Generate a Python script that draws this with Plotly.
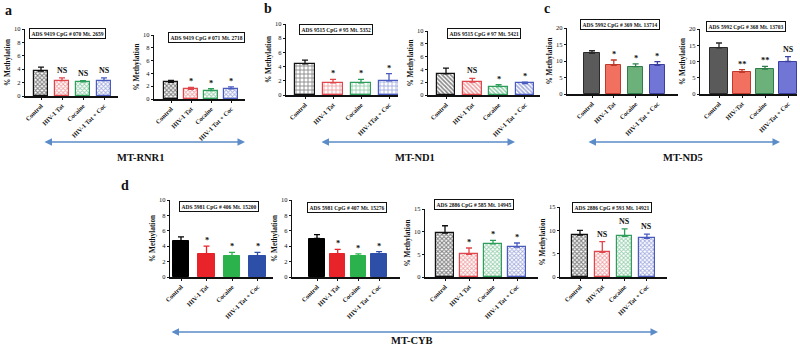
import plotly.graph_objects as go

W, H = 800, 345
FONT = "Liberation Serif, Times New Roman, serif"

# ---------------- data ----------------
cats_a1 = ["Control", "HIV-1 Tat", "Cocaine", "HIV-1 Tat + Coc"]
cats_a2 = ["Control", "HIV-1 Tat", "Cocaine", "HIV-1 Tat + Coc"]
cats_b1 = ["Control", "HIV-1 Tat", "Cocaine", "HIV-1Tat + Coc"]
cats_b2 = ["Control", "HIV-1 Tat", "Cocaine", "HIV-1 Tat + Coc"]
cats_c1 = ["Control", "HIV-1 Tat", "Cocaine", "HIV-1 Tat + Coc"]
cats_c2 = ["Control", "HIV-Tat", "Cocaine", "HIV-Tat + Coc"]
cats_d1 = ["Control", "HIV-1 Tat", "Cocaine", "HIV-1 Tat + Coc"]
cats_d2 = ["Control", "HIV-1 Tat", "Cocaine", "HIV-1 Tat + Coc"]
cats_d3 = ["Control", "HIV-1 Tat", "Cocaine", "HIV-1 Tat + Coc"]
cats_d4 = ["Control", "HIV-Tat", "Cocaine", "HIV-Tat + Coc"]

a1_vals = [3.7, 2.3, 2.1, 2.3]
a1_err = [0.6, 0.4, 0.2, 0.4]
a1_sig = ["", "NS", "NS", "NS"]
a2_vals = [2.6, 1.5, 1.3, 1.6]
a2_err = [0.3, 0.3, 0.3, 0.3]
a2_sig = ["", "*", "*", "*"]
b1_vals = [4.4, 1.7, 1.7, 2.0]
b1_err = [0.5, 0.5, 0.5, 1.0]
b1_sig = ["", "*", "*", "*"]
b2_vals = [3.3, 2.0, 1.3, 1.8]
b2_err = [0.9, 0.6, 0.3, 0.2]
b2_sig = ["", "NS", "*", "*"]
c1_vals = [12.3, 8.7, 8.3, 8.7]
c1_err = [0.8, 1.6, 0.8, 1.1]
c1_sig = ["", "*", "*", "*"]
c2_vals = [14.2, 6.7, 7.7, 10.0]
c2_err = [1.5, 0.8, 0.8, 1.5]
c2_sig = ["", "**", "**", "NS"]
d1_vals = [4.7, 3.0, 2.7, 2.7]
d1_err = [0.5, 1.0, 0.5, 0.5]
d1_sig = ["", "*", "*", "*"]
d2_vals = [5.0, 3.0, 2.7, 3.0]
d2_err = [0.5, 0.6, 0.3, 0.3]
d2_sig = ["", "*", "*", "*"]
d3_vals = [9.7, 5.0, 7.3, 6.6]
d3_err = [1.6, 1.4, 0.8, 0.9]
d3_sig = ["", "*", "*", "*"]
d4_vals = [9.0, 5.3, 8.7, 8.3]
d4_err = [1.0, 2.3, 1.6, 0.9]
d4_sig = ["", "NS", "NS", "NS"]

titles = [
    "ADS 9419 CpG # 070 Mt. 2659", "ADS 9419 CpG # 071 Mt. 2718",
    "ADS 9515 CpG # 95 Mt. 5352", "ADS 9515 CpG # 97 Mt. 5421",
    "ADS 5992 CpG # 369 Mt. 13714", "ADS 5992 CpG # 368 Mt. 13703",
    "ADS 5981 CpG # 406 Mt. 15200", "ADS 5981 CpG # 407 Mt. 15276",
    "ADS 2886 CpG # 585 Mt. 14945", "ADS 2886 CpG # 593 Mt. 14921",
]
genes = ["MT-RNR1", "MT-ND1", "MT-ND5", "MT-CYB"]
panel_letters = ["a", "b", "c", "d"]

# ---------------- styles ----------------
PAT_COLS = ["#111111", "#e0474c", "#2e9e5a", "#4a5bbf"]
C_FILL = ["#5a5a5a", "#f2705f", "#6cb07a", "#7175d6"]
C_LINE = ["#2a2a2a", "#c0392b", "#2e7d4a", "#3a3fa0"]
D_COLS = ["#000000", "#e8232a", "#2bb24c", "#2e4fa8"]

# per panel: data, cats, layout (px): xl, xr, ytop, ybot, ymax, dtick, bar0, spacing, width, style, title pos
panels = [
    (a1_vals, a1_err, a1_sig, cats_a1, 25, 118, 29, 96, 10, 2, 41, 21, 0.62, "chk", (67, 34)),
    (a2_vals, a2_err, a2_sig, cats_a2, 154, 245, 35, 99, 10, 2, 171, 20, 0.72, "chk", (206, 38)),
    (b1_vals, b1_err, b1_sig, cats_b1, 286, 398, 24, 95, 10, 2, 305, 28, 0.7, "grid", (336, 29)),
    (b2_vals, b2_err, b2_sig, cats_b2, 428, 540, 31, 95, 10, 2, 446, 26.3, 0.7, "diag", (484, 34)),
    (c1_vals, c1_err, c1_sig, cats_c1, 567, 678, 28, 94, 20, 5, 592, 21.8, 0.7, "solidc", (620, 25)),
    (c2_vals, c2_err, c2_sig, cats_c2, 700, 797, 29, 94, 20, 5, 719, 23, 0.75, "solidc", (746, 27)),
    (d1_vals, d1_err, d1_sig, cats_d1, 170, 273, 200, 277, 10, 2, 181, 25.5, 0.65, "solidd", (219, 206)),
    (d2_vals, d2_err, d2_sig, cats_d2, 292, 400, 200, 277, 10, 2, 317, 20.7, 0.75, "solidd", (347, 207)),
    (d3_vals, d3_err, d3_sig, cats_d3, 425, 538, 209, 277, 15, 5, 445, 24, 0.72, "chk", (474, 204)),
    (d4_vals, d4_err, d4_sig, cats_d4, 560, 667, 207, 277, 15, 5, 580, 22.3, 0.7, "chk", (612, 207)),
]

fig = go.Figure()
annotations = []
layout = {}

for i, (vals, errs, sigs, cats, xl, xr, ytop, ybot, ymax, dt, bar0, sp, bw, style, tpos) in enumerate(panels):
    n = i + 1
    xa = "x" if n == 1 else f"x{n}"
    ya = "y" if n == 1 else f"y{n}"
    for j, (v, e) in enumerate(zip(vals, errs)):
        if style == "chk":
            col = PAT_COLS[j]
            marker = dict(color="white", line=dict(color=col, width=1.2),
                          pattern=dict(shape="x", fgcolor=col, size=3, solidity=0.6 if j == 0 else 0.5))
            ecol = col
        elif style == "grid":
            col = PAT_COLS[j]
            marker = dict(color="white", line=dict(color=col, width=1.2),
                          pattern=dict(shape="+", fgcolor=col, size=4, solidity=0.4))
            ecol = col
        elif style == "diag":
            col = PAT_COLS[j]
            marker = dict(color="white", line=dict(color=col, width=1.2),
                          pattern=dict(shape="\\", fgcolor=col, size=3, solidity=0.55))
            ecol = col
        elif style == "solidc":
            marker = dict(color=C_FILL[j], line=dict(color=C_LINE[j], width=1))
            ecol = C_LINE[j]
        else:
            marker = dict(color=D_COLS[j], line=dict(color=D_COLS[j], width=1))
            ecol = D_COLS[j]
        fig.add_trace(go.Bar(
            x=[j], y=[v], width=[bw], marker=marker, xaxis=xa, yaxis=ya,
            error_y=dict(type="data", array=[e], arrayminus=[0], symmetric=False,
                         color=ecol, thickness=1.3, width=3),
            showlegend=False, hoverinfo="skip"))
        if sigs[j]:
            annotations.append(dict(
                x=j, y=v + e, xref=xa, yref=ya, text=f"<b>{sigs[j]}</b>",
                showarrow=False, xanchor="center", yanchor="bottom",
                yshift=1 if sigs[j] == "NS" else -1,
                font=dict(family=FONT, size=8 if sigs[j] == "NS" else 8.5, color="#111")))
    rx = [(xl - bar0) / sp, (xr - bar0) / sp]
    layout["xaxis" if n == 1 else f"xaxis{n}"] = dict(
        domain=[xl / W, xr / W], anchor=ya, range=rx, automargin=False,
        tickvals=[0, 1, 2, 3], ticktext=[f"<b>{c}</b>" for c in cats],
        tickangle=-45, tickfont=dict(family=FONT, size=6.4, color="#111"),
        showline=True, linecolor="#111", linewidth=1.6, ticks="outside",
        ticklen=2, tickcolor="#111", showgrid=False, zeroline=False, fixedrange=True)
    layout["yaxis" if n == 1 else f"yaxis{n}"] = dict(
        domain=[1 - ybot / H, 1 - ytop / H], anchor=xa, range=[0, ymax], dtick=dt,
        automargin=False,
        tickfont=dict(family=FONT, size=6.5, color="#111"),
        title=dict(text="<b>% Methylation</b>", font=dict(family=FONT, size=7.3, color="#111"), standoff=2),
        showline=True, linecolor="#111", linewidth=1.3, ticks="outside", ticklen=2,
        tickcolor="#111", showgrid=False, zeroline=False, fixedrange=True)
    annotations.append(dict(
        x=tpos[0] / W, y=1 - tpos[1] / H, xref="paper", yref="paper",
        xanchor="center", yanchor="middle",
        text=f"<b>{titles[i]}</b>", showarrow=False, bordercolor="#111", borderwidth=1,
        borderpad=1.5, bgcolor="white", font=dict(family=FONT, size=5.5, color="#111")))

# arrows and gene labels
arrow_spans = [(43, 245, 142), (320, 515, 142), (587, 780, 142), (170, 658, 332)]
gene_pos = [(140, 157), (415, 157), (683, 157), (412, 340)]
for (x0, x1, yy), g, (gx, gy) in zip(arrow_spans, genes, gene_pos):
    annotations.append(dict(
        x=x1 / W, y=1 - yy / H, xref="paper", yref="paper", ax=-(x1 - x0), ay=0,
        axref="pixel", ayref="pixel", text="", showarrow=True, arrowhead=2,
        arrowside="end+start", arrowsize=1, arrowwidth=1.5, arrowcolor="#5b8cc8"))
    annotations.append(dict(
        x=gx / W, y=1 - gy / H, xref="paper", yref="paper", text=f"<b>{g}</b>",
        xanchor="center", yanchor="middle",
        showarrow=False, font=dict(family=FONT, size=10.5, color="#111")))

letter_pos = [(8, 10), (268, 9), (547, 8), (125, 185)]
for L, (lx, ly) in zip(panel_letters, letter_pos):
    annotations.append(dict(
        x=lx / W, y=1 - ly / H, xref="paper", yref="paper", text=f"<b>{L}</b>",
        xanchor="center", yanchor="middle",
        showarrow=False, font=dict(family=FONT, size=14, color="#111")))

fig.update_layout(
    width=W, height=H, margin=dict(l=0, r=0, t=0, b=0, autoexpand=False),
    paper_bgcolor="white", plot_bgcolor="white", bargap=0,
    annotations=annotations, **layout)

fig.write_html("out.html", config={"displayModeBar": False},
               post_script="document.body.style.margin='0';document.body.style.overflow='hidden';")
